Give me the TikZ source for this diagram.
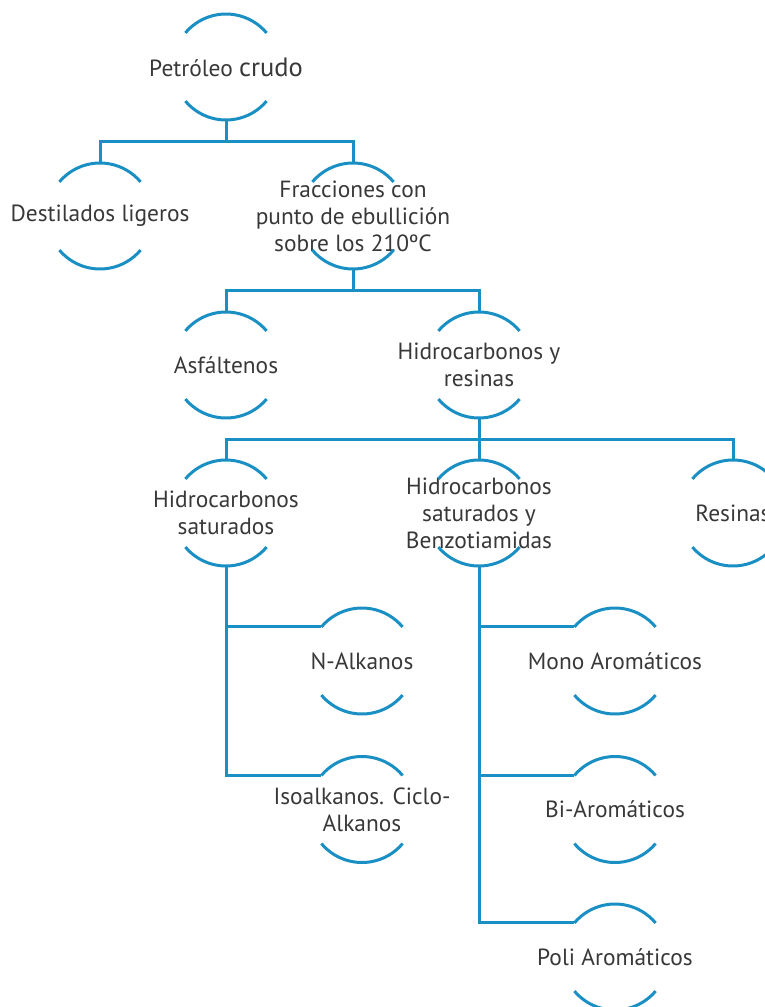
\documentclass[tikz,border=0pt]{standalone}
\usepackage{fontspec}
\setmainfont{PT Sans}
\usetikzlibrary{calc}
\definecolor{linkblue}{RGB}{26,143,196}
\definecolor{txtgray}{RGB}{56,56,56}
\begin{document}
\begin{tikzpicture}[x=1pt,y=1pt,
  bub/.style={circle, minimum size=106pt, inner sep=0pt, outer sep=0pt},
  txt/.style={text=txtgray, align=center, inner sep=0pt,
              font=\fontsize{23.4}{27}\selectfont},
  link/.style={draw=linkblue, line width=3pt},
]
\useasboundingbox (0,0) rectangle (764,-1007);

% bubbles: an empty circle carries the anchors, the label carries the text
\node[bub, label={[txt]center:{Petróleo {\fontsize{26.5}{27}\selectfont crudo}}}] (pc) at (226,-67) {};
\node[bub, label={[txt]center:{Destilados ligeros}}] (dl) at (100,-216) {};
\node[bub, label={[txt]center:{Fracciones con\\punto de ebullición\\sobre los 210ºC}}] (fc) at (353,-216) {};
\node[bub, label={[txt]center:{Asfáltenos}}] (as) at (226,-365) {};
\node[bub, label={[txt]center:{Hidrocarbonos y\\resinas}}] (hr) at (479,-365) {};
\node[bub, label={[txt]center:{Hidrocarbonos\\saturados}}] (hs) at (226,-513) {};
\node[bub, label={[txt]center:{Hidrocarbonos\\saturados y\\Benzotiamidas}}] (hb) at (479,-513) {};
\node[bub, label={[txt]center:{Resinas}}] (rs) at (733,-513) {};
\node[bub, label={[txt]center:{N-Alkanos}}] (na) at (362,-661) {};
\node[bub, label={[txt]center:{Isoalkanos. Ciclo-\\Alkanos}}] (ia) at (362,-809.5) {};
\node[bub, label={[txt]center:{Mono Aromáticos}}] (ma) at (615,-661) {};
\node[bub, label={[txt]center:{Bi-Aromáticos}}] (ba) at (615,-809.5) {};
\node[bub, label={[txt]center:{Poli Aromáticos}}] (pa) at (615,-957) {};

% upper and lower arcs of every bubble
\foreach \n in {pc,dl,fc,as,hr,hs,hb,rs,na,ia,ma,ba,pa}{
  \draw[link] (\n.140) arc[start angle=140, end angle=40, radius=53pt];
  \draw[link] (\n.220) arc[start angle=220, end angle=320, radius=53pt];
}

% tree connectors
\coordinate (j1) at ($(pc.south)!.5!(pc.south |- fc.north)$);
\draw[link] (pc.south) -- (j1);
\draw[link] (dl.north) |- (j1) -| (fc.north);

\coordinate (j2) at ($(fc.south)!.5!(fc.south |- hr.north)$);
\draw[link] (fc.south) -- (j2);
\draw[link] (as.north) |- (j2) -| (hr.north);

\coordinate (j3) at ($(hr.south)!.5!(hr.south |- hb.north)$);
\draw[link] (hr.south) -- (hb.north);
\draw[link] (hs.north) |- (j3) -| (rs.north);

\draw[link] (hs.south) |- (ia.140);
\draw[link] (hs.south |- na.140) -- (na.140);

\draw[link] (hb.south) |- (pa.140);
\draw[link] (hb.south |- ma.140) -- (ma.140);
\draw[link] (hb.south |- ba.140) -- (ba.140);
\end{tikzpicture}
\end{document}
